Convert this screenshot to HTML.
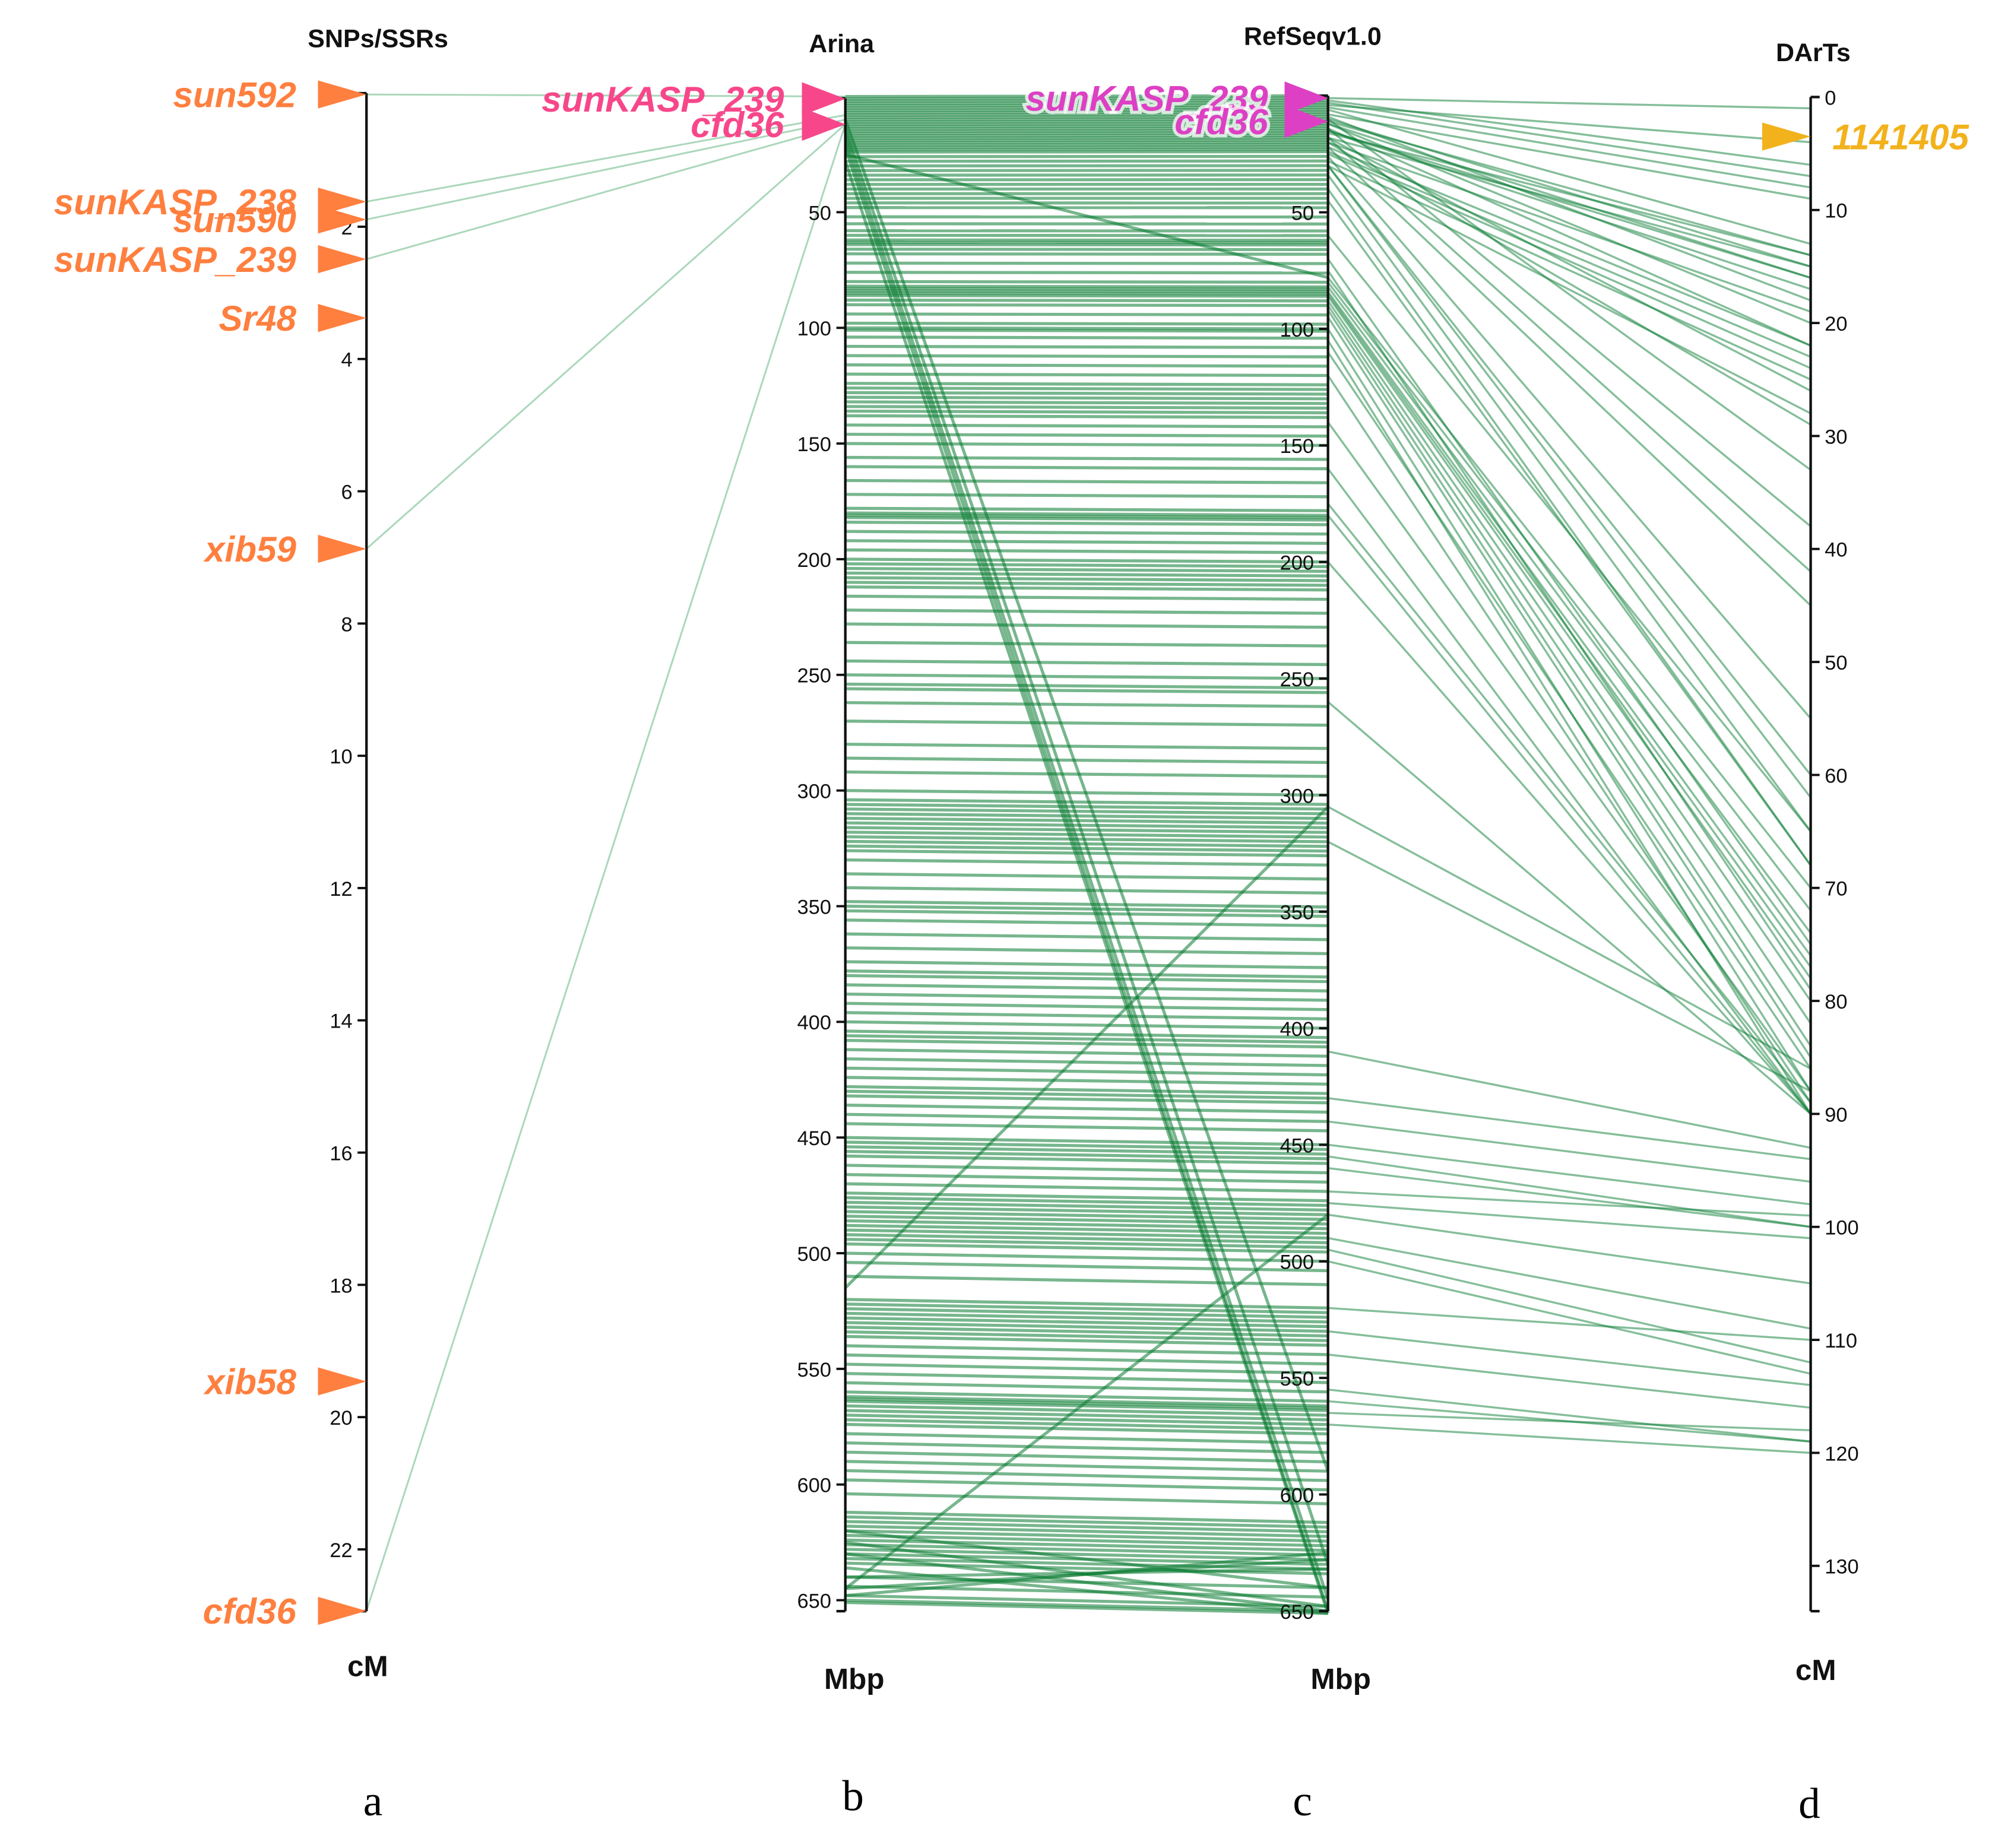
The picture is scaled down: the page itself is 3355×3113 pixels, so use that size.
<!DOCTYPE html>
<html><head><meta charset="utf-8"><title>Comparative map</title>
<style>
html,body{margin:0;padding:0;background:#fff;}
svg{display:block;}
.tick{font-family:"Liberation Sans Narrow","Liberation Sans",sans-serif;font-size:16px;fill:#111;}
.ttl{font-family:"Liberation Sans Narrow","Liberation Sans",sans-serif;font-size:20px;font-weight:bold;fill:#111;}
.unit{font-family:"Liberation Sans",sans-serif;font-size:23px;font-weight:bold;fill:#111;}
.mk{font-family:"Liberation Sans",sans-serif;font-size:28px;font-weight:bold;font-style:italic;}
.halo{paint-order:stroke;stroke:rgba(255,255,255,0.75);stroke-width:5px;}
.pl{font-family:"Liberation Serif",serif;font-size:34px;fill:#000;}
</style></head>
<body>
<svg id="chart" width="3355" height="3113" viewBox="0 0 1560 1447.5" xmlns="http://www.w3.org/2000/svg">
<g id="links"></g>
<g id="axes"></g>
<g id="markers"></g>
<text class="ttl" x="296" y="37" text-anchor="middle">SNPs/SSRs</text>
<text class="ttl" x="659" y="41" text-anchor="middle">Arina</text>
<text class="ttl" x="1028" y="35" text-anchor="middle">RefSeqv1.0</text>
<text class="ttl" x="1420" y="48" text-anchor="middle">DArTs</text>
<text class="unit" x="288" y="1313" text-anchor="middle">cM</text>
<text class="unit" x="669" y="1323" text-anchor="middle">Mbp</text>
<text class="unit" x="1050" y="1323" text-anchor="middle">Mbp</text>
<text class="unit" x="1422" y="1316" text-anchor="middle">cM</text>
<text class="pl" x="292" y="1422" text-anchor="middle">a</text>
<text class="pl" x="668" y="1418" text-anchor="middle">b</text>
<text class="pl" x="1020" y="1422" text-anchor="middle">c</text>
<text class="pl" x="1417" y="1424" text-anchor="middle">d</text>
</svg>
<script>
// ---- data ----
const ticksA = [2,4,6,8,10,12,14,16,18,20,22];
const ticksB = [50,100,150,200,250,300,350,400,450,500,550,600,650];
const ticksC = [50,100,150,200,250,300,350,400,450,500,550,600,650];
const ticksD = [0,10,20,30,40,50,60,70,80,90,100,110,120,130];
const markerNamesA = ["sun592","sunKASP_238","sun590","sunKASP_239","Sr48","xib59","xib58","cfd36"];
const markerPosA = [0,1.62,1.89,2.49,3.38,6.87,19.46,22.93];
const markerNamesB = ["sunKASP_239","cfd36"];
const markerPosB = [1,12];
const markerNamesC = ["sunKASP_239","cfd36"];
const markerPosC = [1,11];
const markerNamesD = ["1141405"];
const markerPosD = [3.5];
// a -> b links (cM -> Mbp)
const linkABfrom = [0,1.62,1.89,2.49,6.87,22.93];
const linkABto = [0,8,10,12,12,12];
// b -> c links (Arina Mbp -> RefSeq Mbp)
const linkBCfrom = [0,1,2,3,4,5,6,7,8,9,10,11,12,13,14,15,16,17,18,19,20,21,22,23,24,26,28,30,32,34,36,38,40,42,44,46,48,52,55,58,60,62,63,64,66,68,72,76,80,82,83,84,85,86,88,90,94,98,100,101,104,108,112,116,120,124,126,128,130,132,134,136,138,142,146,150,156,160,166,172,178,180,181,182,184,188,192,196,200,202,204,206,208,210,212,216,222,228,236,244,250,254,256,262,270,280,286,292,300,304,306,308,310,312,314,316,318,320,322,324,326,330,336,342,348,350,352,356,362,368,374,378,380,384,388,392,396,400,404,406,408,412,416,420,424,428,430,432,436,440,444,450,452,454,456,458,462,466,470,474,476,478,480,482,484,486,488,490,492,494,496,500,504,510,520,522,524,526,528,530,532,534,536,540,544,548,552,556,560,562,563,564,566,568,570,572,574,578,582,586,590,594,598,604,612,614,616,618,620,622,624,626,628,630,632,634,640,644,648,650,651,
 25,10,14,18,22,28,515,645,625,630,640,645,648,636,620];
const linkBCto = [0,1,2,3,4,5,6,7,8,9,10,11,12,13,14,15,16,17,18,19,20,21,22,23,24,26,28,30,32,34,36,38,40,42,44,46,48,52,55,58,60,62,63,64,66,68,72,76,80,82,83,84,85,86,88,90,94,98,100,101,104,108,112,116,120,124,126,128,130,132,134,136,138,142,146,150,156,160,166,172,178,180,181,182,184,188,192,196,200,202,204,206,208,210,212,216,222,228,236,244,250,254,256,262,270,280,286,292,300,304,306,308,310,312,314,316,318,320,322,324,326,330,336,342,348,350,352,356,362,368,374,378,380,384,388,392,396,400,404,406,408,412,416,420,424,428,430,432,436,440,444,450,452,454,456,458,462,466,470,474,476,478,480,482,484,486,488,490,492,494,496,500,504,510,520,522,524,526,528,530,532,534,536,540,544,548,552,556,560,562,563,564,566,568,570,572,574,578,582,586,590,594,598,604,612,614,616,618,620,622,624,626,628,630,632,634,640,644,648,650,651,
 78,590,630,645,650,651,305,480,648,650,632,628,625,651,640];
// c -> d links (RefSeq Mbp -> DArTs cM)
const linkCDfrom = [1,2,3,4,5,8,10,12,15,16,18,20,22,24,25,28,30,15,6,9,12,14,18,20,11,
 10,14,18,22,26,30,34,40,
 78,80,82,84,86,88,90,95,100,105,110,120,140,160,175,180,200,60,70,75,30,45,85,92,
 260,305,320,
 410,430,440,450,455,460,470,475,480,490,495,500,520,530,540,555,560,570,565];
const linkCDto = [1,6,7,4,8,9,15,16,17,14,15,19,22,23,24,25,28,16,13,18,20,22,26,29,14,
 33,38,42,45,55,60,65,68,
 70,72,74,76,78,80,82,85,88,90,86,89,88,90,89,90,90,65,75,79,62,68,77,84,
 90,86,88,
 93,94,96,98,100,100,99,101,105,109,112,113,110,114,116,119,119,120,118];

// ---- axis functions ----
const AX = {a:287, b:662, c:1040, d:1418};
function yA(v){return 74 + v*51.8;}
function yB(v){return 75.6 + v*90.6/50;}
function yC(v){return 75 + v*91.3/50;}
function yD(v){return 76 + v*8.85;}
const NS = "http://www.w3.org/2000/svg";
function mk(tag, attrs, parent){const e=document.createElementNS(NS,tag);for(const k in attrs)e.setAttribute(k,attrs[k]);parent.appendChild(e);return e;}
const links = document.getElementById('links');
const axes = document.getElementById('axes');
const markers = document.getElementById('markers');

// links
linkABfrom.forEach((v,i)=>{
  const l = mk('line',{x1:AX.a,y1:yA(v),x2:AX.b,y2:yB(linkABto[i]),stroke:'#2e9a55','stroke-opacity':0.4,'stroke-width':1.4},links);
  
  
});
linkBCfrom.forEach((v,i)=>{
  const l = mk('line',{x1:AX.b,y1:yB(v),x2:AX.c,y2:yC(linkBCto[i]),stroke:'#087a30','stroke-opacity':0.55,'stroke-width':2.4},links);
  
  
});
linkCDfrom.forEach((v,i)=>{
  const l = mk('line',{x1:AX.c,y1:yC(v),x2:AX.d,y2:yD(linkCDto[i]),stroke:'#0b7d35','stroke-opacity':0.5,'stroke-width':1.6},links);
  
  
});

// axes
function drawAxis(x, yf, top, bottom, ticks, side, name){
  const g = mk('g',{},axes);
  
  
  mk('line',{x1:x,y1:top,x2:x,y2:bottom,stroke:'#111','stroke-width':2},g);
  const dir = side==='left'?-1:1;
  mk('line',{x1:x,y1:top,x2:x+dir*7,y2:top,stroke:'#111','stroke-width':2},g);
  mk('line',{x1:x,y1:bottom,x2:x+dir*7,y2:bottom,stroke:'#111','stroke-width':2},g);
  ticks.forEach(t=>{
    const y = yf(t);
    mk('line',{x1:x,y1:y,x2:x+dir*7,y2:y,stroke:'#111','stroke-width':1.8},g);
    const tx = mk('text',{x:x+dir*11,y:y+6,'text-anchor':side==='left'?'end':'start','class':'tick'},g);
    tx.textContent = t;
    
    
  });
}
drawAxis(AX.a, yA, 73, 1262, ticksA, 'left', 'axis-snps-ssrs');
drawAxis(AX.b, yB, 77, 1262, ticksB, 'left', 'axis-arina');
drawAxis(AX.c, yC, 75, 1262, ticksC, 'left', 'axis-refseq');
drawAxis(AX.d, yD, 76, 1262, ticksD, 'right', 'axis-darts');

// markers
function drawMarkers(names, pos, x, yf, color, w, h, halo, lblOffset){
  names.forEach((n,i)=>{
    const y = yf(pos[i]);
    const p = mk('polygon',{points:`${x-w},${y-h} ${x},${y} ${x-w},${y+h}`,fill:color},markers);
    
    
    const t = mk('text',{x:x-w-lblOffset,y:y+10,'text-anchor':'end','class':'mk'+(halo?' halo':''),fill:color},markers);
    t.textContent = n;
    
    
  });
}
drawMarkers(markerNamesA, markerPosA, AX.a, yA, '#ff7f3f', 38, 11, false, 17);
drawMarkers(markerNamesB, markerPosB, AX.b, yB, '#f7478a', 34, 13, false, 14);
drawMarkers(markerNamesC, markerPosC, AX.c, yC, '#dd40c4', 34, 13, true, 13);
markerNamesD.forEach((n,i)=>{
  const y = yD(markerPosD[i]);
  const p = mk('polygon',{points:`${AX.d-38},${y-11} ${AX.d},${y} ${AX.d-38},${y+11}`,fill:'#f2b21c'},markers);
  
  
  const t = mk('text',{x:AX.d+17,y:y+10,'text-anchor':'start','class':'mk',fill:'#f2b21c'},markers);
  t.textContent = n;
  
  
});
</script>
</body></html>
